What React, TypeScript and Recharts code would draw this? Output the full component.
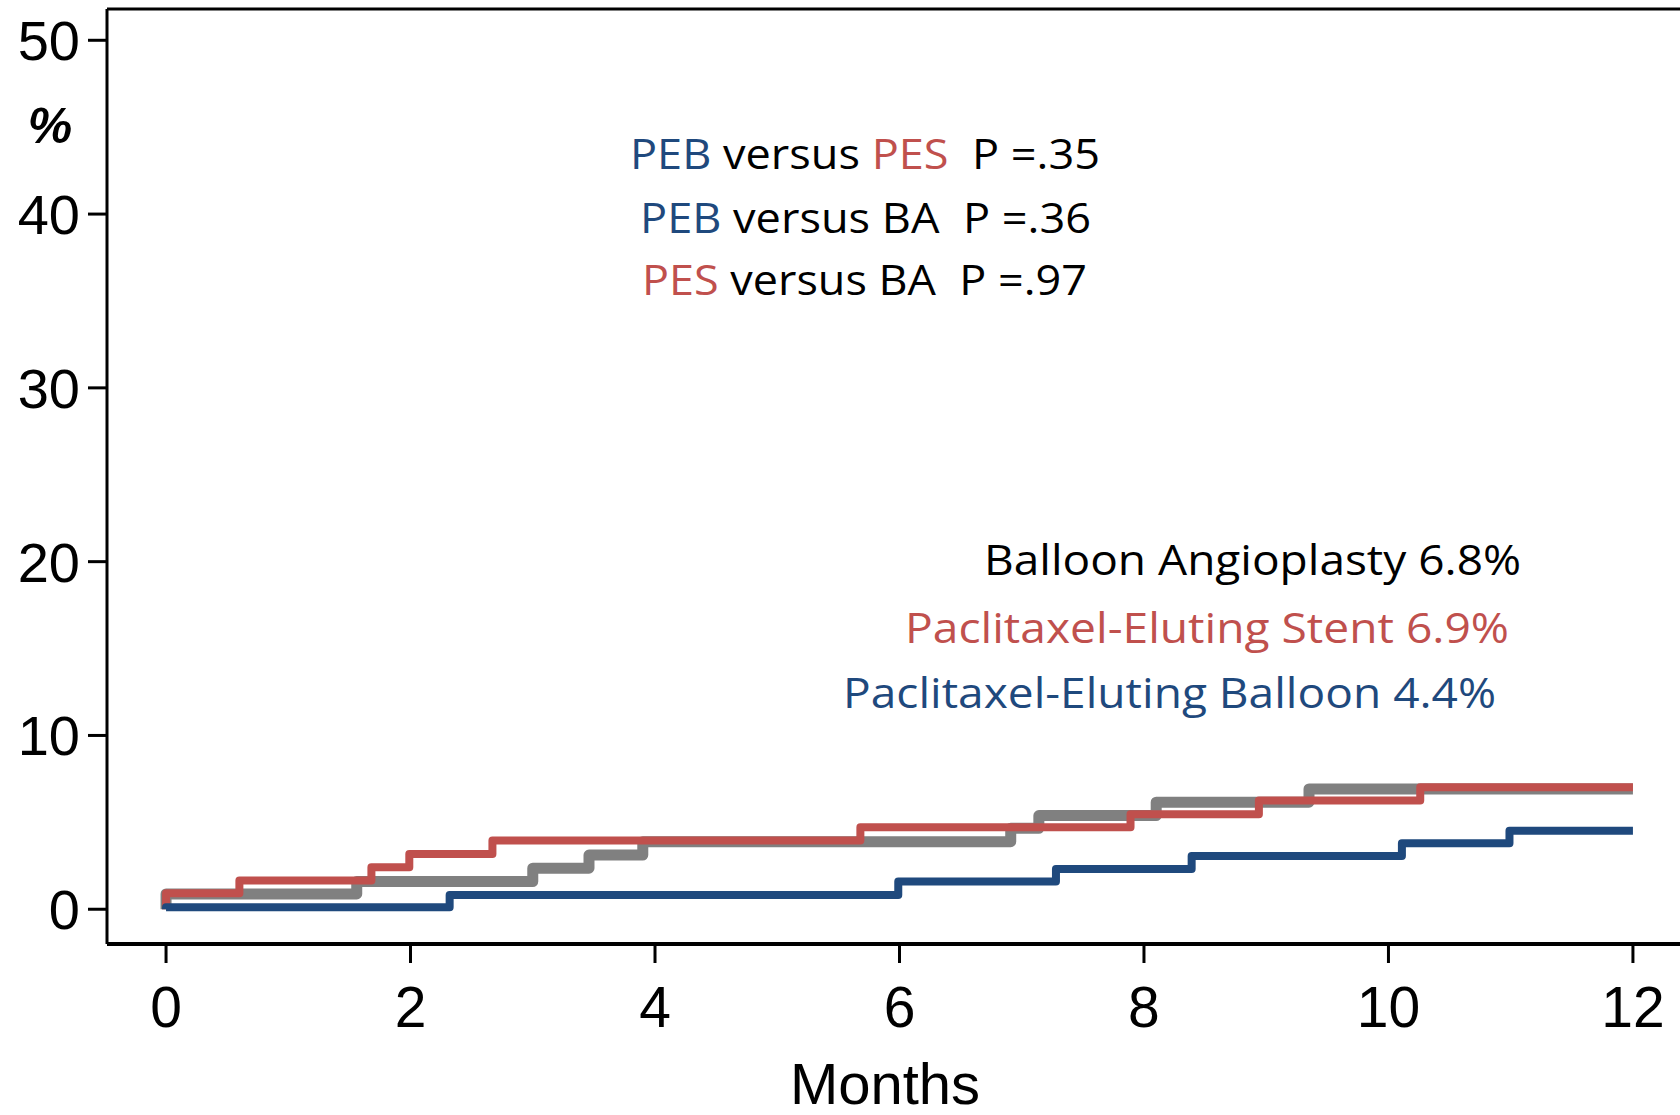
import React from 'react';
import { LineChart, Line, XAxis, YAxis, ReferenceLine } from 'recharts';

// Tick labels
const xTicks = [0, 2, 4, 6, 8, 10, 12];
const yTicks = [0, 10, 20, 30, 40, 50];

// Balloon Angioplasty (gray)
const baTimes = [0, 0, 1.56, 3.0, 3.46, 3.9, 6.91, 7.14, 8.1, 9.35, 12];
const baValues = [0, 0.88, 1.59, 2.36, 3.12, 3.89, 4.66, 5.39, 6.16, 6.92, 6.92];

// Paclitaxel-Eluting Stent (red)
const pesTimes = [0, 0, 0.6, 1.68, 1.99, 2.67, 5.68, 7.89, 8.94, 10.26, 12];
const pesValues = [0, 0.92, 1.65, 2.42, 3.18, 3.95, 4.72, 5.47, 6.25, 7.02, 7.02];

// Paclitaxel-Eluting Balloon (blue)
const pebTimes = [0, 0, 2.32, 5.99, 7.28, 8.39, 10.11, 10.99, 12];
const pebValues = [0, 0.12, 0.82, 1.59, 2.32, 3.07, 3.8, 4.52, 4.52];

const BLUE = '#1F497D';
const RED = '#C0504D';
const GRAY = '#808080';

const toRows = (ts: number[], vs: number[]) => ts.map((t, i) => ({ t, v: vs[i] }));

const baData = toRows(baTimes, baValues);
const pesData = toRows(pesTimes, pesValues);
const pebData = toRows(pebTimes, pebValues);

const AX_FONT = 'Liberation Sans, Arial, sans-serif';
const TXT_FONT = '"Open Sans", "Noto Sans", sans-serif';
const TXT_SIZE = 42;

export default function App() {
  return (
    <div style={{ position: 'absolute', left: 0, top: 0, width: 1680, height: 1115, overflow: 'hidden', background: '#fff' }}>
      <LineChart width={1680} height={1115} margin={{ top: 9, right: 0, bottom: 0, left: 0 }}>
        <XAxis
          type="number"
          dataKey="t"
          domain={[-0.483, 12.385]}
          ticks={xTicks}
          interval={0}
          allowDataOverflow
          height={171}
          tickSize={19}
          tickMargin={24}
          tick={{ fill: '#000', fontSize: 57, fontFamily: AX_FONT }}
          axisLine={{ stroke: '#000', strokeWidth: 4 }}
          tickLine={{ stroke: '#000', strokeWidth: 3 }}
        />
        <YAxis
          type="number"
          domain={[-2, 51.8]}
          ticks={yTicks}
          interval={0}
          allowDataOverflow
          width={107}
          tickSize={19}
          tickMargin={8}
          tick={{ fill: '#000', fontSize: 56, fontFamily: AX_FONT }}
          axisLine={{ stroke: '#000', strokeWidth: 3 }}
          tickLine={{ stroke: '#000', strokeWidth: 3 }}
        />
        <ReferenceLine y={51.8} stroke="#000" strokeWidth={3} ifOverflow="visible" />
        <Line data={baData} dataKey="v" type="stepAfter" stroke={GRAY} strokeWidth={11} dot={false} activeDot={false} strokeLinejoin="round" isAnimationActive={false} />
        <Line data={pesData} dataKey="v" type="stepAfter" stroke={RED} strokeWidth={8} dot={false} activeDot={false} strokeLinejoin="round" isAnimationActive={false} />
        <Line data={pebData} dataKey="v" type="stepAfter" stroke={BLUE} strokeWidth={8} dot={false} activeDot={false} strokeLinejoin="round" isAnimationActive={false} />
      </LineChart>
      <svg width={1680} height={1115} style={{ position: 'absolute', left: 0, top: 0, pointerEvents: 'none' }}>
        <text x={50} y={143} textAnchor="middle" fontFamily={AX_FONT} fontSize={50} fontWeight="bold" fontStyle="italic" fill="#000">%</text>
        <text x={885} y={1104} textAnchor="middle" fontFamily={AX_FONT} fontSize={58} fill="#000">Months</text>

        <text x={630} y={169} fontFamily={TXT_FONT} fontSize={TXT_SIZE} textLength={470} lengthAdjust="spacingAndGlyphs" style={{ whiteSpace: 'pre' }}>
          <tspan fill={BLUE}>PEB</tspan>
          <tspan fill="#000"> versus </tspan>
          <tspan fill={RED}>PES</tspan>
          <tspan fill="#000">{'  P =.35'}</tspan>
        </text>
        <text x={640} y={233} fontFamily={TXT_FONT} fontSize={TXT_SIZE} textLength={451} lengthAdjust="spacingAndGlyphs" style={{ whiteSpace: 'pre' }}>
          <tspan fill={BLUE}>PEB</tspan>
          <tspan fill="#000">{' versus BA  P =.36'}</tspan>
        </text>
        <text x={642} y={295} fontFamily={TXT_FONT} fontSize={TXT_SIZE} textLength={445} lengthAdjust="spacingAndGlyphs" style={{ whiteSpace: 'pre' }}>
          <tspan fill={RED}>PES</tspan>
          <tspan fill="#000">{' versus BA  P =.97'}</tspan>
        </text>

        <text x={984} y={575} fontFamily={TXT_FONT} fontSize={TXT_SIZE} fill="#000" textLength={537} lengthAdjust="spacingAndGlyphs">Balloon Angioplasty 6.8%</text>
        <text x={905} y={643} fontFamily={TXT_FONT} fontSize={TXT_SIZE} fill={RED} textLength={604} lengthAdjust="spacingAndGlyphs">Paclitaxel-Eluting Stent 6.9%</text>
        <text x={843} y={708} fontFamily={TXT_FONT} fontSize={TXT_SIZE} fill={BLUE} textLength={653} lengthAdjust="spacingAndGlyphs">Paclitaxel-Eluting Balloon 4.4%</text>
      </svg>
    </div>
  );
}
